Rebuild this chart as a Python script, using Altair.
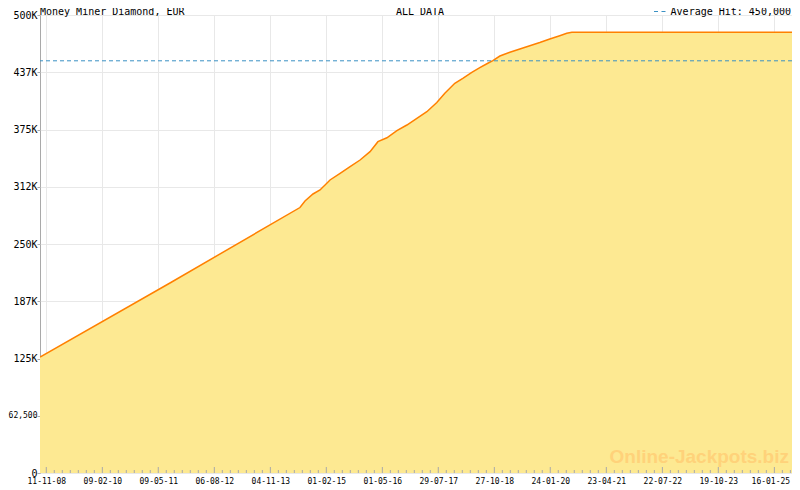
import altair as alt
import pandas as pd

# ---- data ----
dates = ["2008-09-21", "2011-08-12", "2014-07-02", "2014-08-12", "2014-10-16", "2014-12-12",
         "2015-03-03", "2015-05-24", "2015-08-13", "2015-11-02", "2016-01-22", "2016-03-26",
         "2016-06-07", "2016-08-27", "2016-11-16", "2017-02-05", "2017-04-27", "2017-07-17",
         "2017-09-20", "2017-12-10", "2018-02-13", "2018-04-27", "2018-07-01", "2018-09-04",
         "2018-10-15", "2018-12-11", "2019-03-02", "2019-05-22", "2019-08-11", "2019-10-31",
         "2020-01-20", "2020-04-10", "2020-06-06", "2020-07-17", "2025-08-04"]
values = [126600, 207400, 289800, 296900, 304600, 309000,
          319900, 327200, 334400, 341700, 350800, 361700,
          366000, 373700, 379900, 387200, 394400, 404500,
          414500, 425400, 430900, 437400, 442500, 447300,
          450100, 455200, 459300, 462900, 466500, 470000,
          473800, 477400, 480000, 481100, 481100]

major_ticks = ["2008-11-11", "2010-02-09", "2011-05-09", "2012-08-06", "2013-11-04",
               "2015-02-01", "2016-05-01", "2017-07-29", "2018-10-27", "2020-01-24",
               "2021-04-23", "2022-07-22", "2023-10-19", "2025-01-16"]
x_domain = ["2008-09-21", "2025-08-04"]
y_ticks = [0, 62500, 125000, 187500, 250000, 312500, 375000, 437500, 500000]
average_hit = 450000

title_text = "Money Miner Diamond, EUR"
period_text = "ALL DATA"
legend_text = "Average Hit: 450,000"
watermark_text = "Online-Jackpots.biz"

# ---- styles ----
FILL = "#fde992"
LINE = "#ff8000"
AVG = "#3a91c4"
FRAME = "#a9a9a9"
GRID = "#e8e8e8"
MONO = "DejaVu Sans Mono"


def ms(d):
    return int(pd.Timestamp(d, tz="UTC").value // 10**6)


df = pd.DataFrame({"t": [ms(d) for d in dates], "v": values})
major_ms = [ms(d) for d in major_ticks]
dom = [ms(d) for d in x_domain]

minor_ms = []
for a, b in zip(major_ms[:-1], major_ms[1:]):
    for k in range(1, 7):
        minor_ms.append(a + (b - a) * k / 7)
step = (major_ms[-1] - major_ms[-2]) / 7
for k in range(1, 4):
    minor_ms.append(major_ms[-1] + step * k)
minor_ms = [t for t in minor_ms if dom[0] <= t <= dom[1]]

W, H = 759, 458
TOP_Y = -0.3

xs = alt.Scale(type="utc", domain=dom, nice=False)
ys = alt.Scale(domain=[0, 500000], nice=False, zero=True)

x_axis = alt.Axis(values=major_ms, title=None,
                  labelExpr="utcFormat(datum.value, '%d-%m-%y')",
                  labelFont=MONO, labelFontSize=8, labelColor="black", labelPadding=4,
                  labelOffset={"condition": {"test": f"datum.value >= {major_ms[-1]}", "value": -4}, "value": 0},
                  ticks=False, tickSize=0, domain=False, grid=True, gridColor=GRID,
                  labelFlush=False, labelOverlap=False)
y_axis = alt.Axis(values=y_ticks, title=None,
                  labelExpr="datum.value == 0 ? '0' : datum.value == 62500 ? '62,500' : floor(datum.value / 1000) + 'K'",
                  labelFont=MONO,
                  labelFontSize={"condition": {"test": "datum.value == 62500", "value": 8}, "value": 10},
                  labelColor="black", labelPadding=0, tickSize=3, tickColor=FRAME,
                  domain=False, grid=True, gridColor=GRID, labelFlush=False, labelOverlap=False)

area = alt.Chart(df).mark_area(color=FILL, clip=True).encode(
    x=alt.X("t:T", scale=xs, axis=x_axis),
    y=alt.Y("v:Q", scale=ys, axis=y_axis),
)
line = alt.Chart(df).mark_line(color=LINE, strokeWidth=1.5, clip=True).encode(
    x=alt.X("t:T", title=None),
    y=alt.Y("v:Q", title=None),
)
avg = alt.Chart(pd.DataFrame({"v": [average_hit]})).mark_rule(
    color=AVG, strokeWidth=1, strokeDash=[4, 3]).encode(y=alt.Y("v:Q", title=None))

major_rules = alt.Chart(pd.DataFrame({"t": major_ms})).mark_rule(color=FRAME, strokeWidth=1).encode(
    x=alt.X("t:T", title=None), y=alt.value(H - 6), y2=alt.value(H))
minor_rules = alt.Chart(pd.DataFrame({"t": minor_ms})).mark_rule(color=FRAME, strokeWidth=1).encode(
    x=alt.X("t:T", title=None), y=alt.value(H - 3), y2=alt.value(H))

one = lambda s: pd.DataFrame({"s": [s]})

watermark = alt.Chart(one(watermark_text)).mark_text(
    font="Liberation Sans", fontWeight="bold", fontSize=19, color="#ffd27a",
    align="right", baseline="alphabetic").encode(
    text="s:N", x=alt.value(749), y=alt.value(448))

title = alt.Chart(one(title_text)).mark_text(
    font=MONO, fontSize=10, color="black", align="left", baseline="alphabetic").encode(
    text="s:N", x=alt.value(0), y=alt.value(TOP_Y))
period = alt.Chart(one(period_text)).mark_text(
    font=MONO, fontSize=10, color="black", align="center", baseline="alphabetic").encode(
    text="s:N", x=alt.value(380), y=alt.value(TOP_Y))
legend = alt.Chart(one(legend_text)).mark_text(
    font=MONO, fontSize=10, color="black", align="right", baseline="alphabetic").encode(
    text="s:N", x=alt.value(751), y=alt.value(TOP_Y))
legend_dash = alt.Chart(one("d")).mark_rule(color=AVG, strokeWidth=1, strokeDash=[4, 3.5]).encode(
    x=alt.value(614), x2=alt.value(626), y=alt.value(TOP_Y - 3.2))

chart = alt.layer(
    area, line, avg, major_rules, minor_rules, watermark, title, period, legend, legend_dash
).properties(
    width=W, height=H,
    autosize=alt.AutoSizeParams(type="none"),
    padding={"left": 32, "top": 7, "right": -7, "bottom": 17},
    background="white",
).configure_view(
    stroke=FRAME, strokeWidth=1
)

chart.save("out.html", embed_options={"renderer": "svg", "actions": False})
